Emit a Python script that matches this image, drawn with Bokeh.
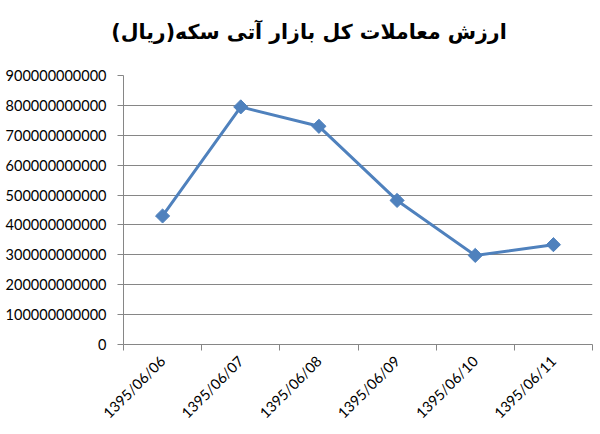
import math
from bokeh.plotting import figure
from bokeh.models import FixedTicker, NumeralTickFormatter, Range1d, Div
from bokeh.layouts import column
from bokeh.embed import file_html
from bokeh.resources import INLINE

title_text = "ارزش معاملات کل بازار آتی سکه(ریال)"
dates = ["1395/06/06", "1395/06/07", "1395/06/08", "1395/06/09", "1395/06/10", "1395/06/11"]
values = [430e9, 795e9, 730e9, 482e9, 298e9, 334e9]
y_ticks = [0, 100e9, 200e9, 300e9, 400e9, 500e9, 600e9, 700e9, 800e9, 900e9]

xs = [i + 0.5 for i in range(len(dates))]

head = Div(text=title_text, width=594, height=65,
           styles={"font-family": "DejaVu Sans", "font-weight": "bold", "font-size": "20.5px",
                   "color": "#000000", "text-align": "center", "direction": "rtl",
                   "box-sizing": "border-box", "padding-left": "24px", "padding-right": "0px",
                   "padding-top": "21px", "line-height": "22px", "margin": "0"})

p = figure(width=594, height=365, output_backend="svg", toolbar_location=None,
           x_range=Range1d(0, len(dates)), y_range=Range1d(0, 900e9),
           min_border_left=123, min_border_right=2, min_border_top=10, min_border_bottom=86)
p.outline_line_color = None

p.line(xs, values, line_color="#4F81BD", line_width=3)
p.scatter(xs, values, marker="square", angle=math.pi / 4, size=10,
          fill_color="#4F81BD", line_color="#4F81BD")

font = "Lato"
p.yaxis.ticker = FixedTicker(ticks=y_ticks)
p.yaxis.formatter = NumeralTickFormatter(format="0")
p.yaxis.axis_line_color = "#868686"
p.yaxis.major_tick_line_color = "#868686"
p.yaxis.major_tick_out = 6
p.yaxis.major_tick_in = 0
p.yaxis.minor_tick_line_color = None
p.yaxis.major_label_text_font = font
p.yaxis.major_label_text_font_size = "14.5px"
p.yaxis.major_label_text_color = "#000000"
p.yaxis.major_label_standoff = 11

p.xaxis.ticker = FixedTicker(ticks=xs, minor_ticks=list(range(len(dates) + 1)))
p.xaxis.major_label_overrides = {x: d for x, d in zip(xs, dates)}
p.xaxis.major_tick_out = 0
p.xaxis.major_tick_in = 0
p.xaxis.minor_tick_out = 6
p.xaxis.minor_tick_in = 0
p.xaxis.minor_tick_line_color = "#868686"
p.xaxis.axis_line_color = "#868686"
p.xaxis.major_label_orientation = math.pi / 4
p.xaxis.major_label_text_font = font
p.xaxis.major_label_text_font_size = "14.5px"
p.xaxis.major_label_text_color = "#000000"
p.xaxis.major_label_standoff = 8

p.xgrid.grid_line_color = None
p.ygrid.ticker = FixedTicker(ticks=y_ticks)
p.ygrid.grid_line_color = "#868686"
p.ygrid.grid_line_width = 1

layout = column(head, p, spacing=0)
open("out.html", "w").write(file_html(layout, INLINE))
